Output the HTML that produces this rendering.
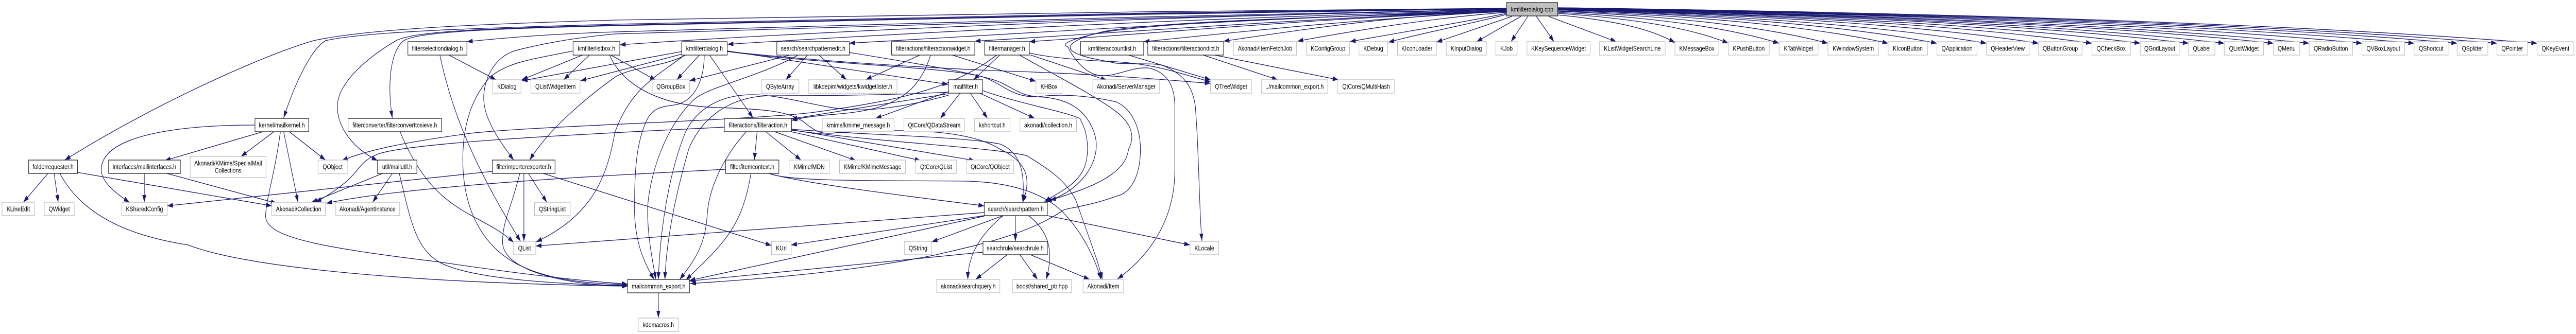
<!DOCTYPE html>
<html><head><meta charset="utf-8"><title>kmfilterdialog.cpp</title>
<style>
html,body{margin:0;padding:0;background:#fff;width:100%;height:100%;overflow:hidden}
svg{display:block;width:100%;height:100%}
.e path{fill:none;stroke:#191970;stroke-width:1.33;marker-end:url(#a)}
rect{fill:#fff;stroke-width:1.33}
.k{stroke:#222}
.g{stroke:#bfbfbf}
text{font-family:"Liberation Sans",sans-serif;font-size:13.33px;text-anchor:middle;fill:#000}
</style></head><body>
<svg xmlns="http://www.w3.org/2000/svg" viewBox="0 0 6284 649" preserveAspectRatio="none">
<defs><marker id="a" markerUnits="userSpaceOnUse" markerWidth="16" markerHeight="12" refX="14" refY="4.7" orient="auto"><path d="M0,0L14,4.7L0,9.4z" fill="#191970"/></marker></defs>
<g class="e">
<path d="M3800,15C4756,25 5592,46 6189,84"/>
<path d="M3800,15C4716,25 5518,46 6091,84"/>
<path d="M3800,15.5C4678,26 5445,46 5994,84"/>
<path d="M3800,16C4636,26 5367,47 5889,84"/>
<path d="M3800,16C4585,26 5272,47 5762,84"/>
<path d="M3800,16.5C4533,27 5175,47 5633,84"/>
<path d="M3800,17C4498,27 5110,47 5546,84"/>
<path d="M3800,17C4450,27 5020,47 5426,84"/>
<path d="M3800,17.5C4416,27 4954,48 5339,84"/>
<path d="M3800,18C4368,28 4866,48 5221,84"/>
<path d="M3800,18C4321,28 4777,48 5103,84"/>
<path d="M3800,18.5C4269,28 4680,48 4973,84"/>
<path d="M3800,19C4218,29 4585,49 4846,84"/>
<path d="M3800,19.5C4170,29 4494,49 4725,84"/>
<path d="M3800,21C4122,30 4407,49 4606,84"/>
<path d="M3800,22C4064,31 4298,50 4459,84"/>
<path d="M3800,24C4016,33 4207,51 4340,84"/>
<path d="M3800,26C3970,35 4119,52 4216,84"/>
<path d="M3800,29C3918,38 4022,53 4086,83"/>
<path d="M3778,32L3943,81"/>
<path d="M3748,32L3791,81"/>
<path d="M3727,32L3686,81"/>
<path d="M3710,32L3602,81"/>
<path d="M3688,32L3504,82"/>
<path d="M3675,28C3580,48 3480,62 3387,82"/>
<path d="M3675,26C3560,45 3400,65 3293,81"/>
<path d="M3675,24C3500,34 3300,60 3165,80"/>
<path d="M3675,22C3400,30 3200,55 2985,80"/>
<path d="M3675,22C3300,38 3050,60 2790,81"/>
<path d="M3675,22C3200,36 2900,60 2511,81"/>
<path d="M3675,21C3200,35 2800,60 2378,80"/>
<path d="M3675,20C3100,34 2600,60 2072,84"/>
<path d="M3675,20C3000,32 2300,60 1775,86"/>
<path d="M3675,19C3000,28 2100,55 1512,87"/>
<path d="M3675,18C3000,26 2000,50 1500,62C1350,66 1250,72 1139,81"/>
<path d="M3675,18C3000,28 2000,55 1500,66C1420,72 1350,80 1263,97C1200,110 1180,160 1180,190C1180,230 1215,270 1253,311"/>
<path d="M3675,16C3000,20 2000,30 1500,39C1200,46 900,55 765,79C650,105 380,200 158,311"/>
<path d="M3675,16C3000,21 2000,36 1500,47C1200,54 900,60 794,79C760,95 720,160 692,229"/>
<path d="M3675,17C3000,22 2000,38 1500,49C1200,55 1010,60 966,79C900,110 823,160 823,207C823,250 865,290 921,312"/>
<path d="M3675,17C3000,23 2000,40 1500,50C1250,55 1020,60 985,79C950,100 945,170 957,229"/>
<path d="M3675,22C3000,36 2800,50 2696,62C2630,72 2580,85 2605,91C2620,115 2650,147 2690,147C2730,147 2760,130 2801,132C2850,140 2866,170 2866,207C2866,250 2866,300 2866,331C2866,430 2800,500 2726,542"/>
<path d="M3675,23C3000,36 2800,48 2700,60C2640,70 2600,85 2613,97C2630,112 2700,118 2723,123C2780,125 2820,122 2839,128C2890,145 2910,170 2916,207C2925,300 2925,400 2932,468"/>
<path d="M117,337L57,393"/>
<path d="M132,337L142,393"/>
<path d="M189,335L663,400"/>
<path d="M146,337C205,425 330,460 459,476C600,520 1000,550 1531,556"/>
<path d="M622,243C450,243 247,260 247,330C247,355 290,380 316,393"/>
<path d="M641,256L402,312"/>
<path d="M668,256L588,304"/>
<path d="M706,256L794,311"/>
<path d="M692,256L727,393"/>
<path d="M684,256C670,340 648,390 648,420C648,460 770,480 1071,509C1250,530 1400,545 1531,552"/>
<path d="M352,337L352,393"/>
<path d="M407,337L675,395"/>
<path d="M933,337L760,393"/>
<path d="M957,337L909,393"/>
<path d="M974,337C1000,420 1010,480 1071,509C1150,545 1400,553 1531,555"/>
<path d="M1767,247C1500,258 1000,275 920,300C860,320 890,340 770,393"/>
<path d="M2433,106C2330,170 2200,195 1978,219C1800,235 1300,245 1148,259C1000,275 900,290 834,312"/>
<path d="M1770,329C1500,340 1000,360 796,395"/>
<path d="M1201,333L408,400"/>
<path d="M1278,337L1278,469"/>
<path d="M1289,337L1334,393"/>
<path d="M1268,337C1245,410 1226,430 1226,470C1226,530 1400,555 1531,556"/>
<path d="M1325,337L1882,477"/>
<path d="M976,256C1060,420 1170,410 1253,471"/>
<path d="M1095,107L1210,155"/>
<path d="M1073,107C1105,230 1170,340 1270,469"/>
<path d="M1421,107L1273,155"/>
<path d="M1438,107L1375,155"/>
<path d="M1490,107L1600,156"/>
<path d="M1487,107C1510,150 1580,205 1749,209C1860,212 1920,215 1959,236C1990,255 2000,262 2040,258C2200,250 2360,250 2440,290C2520,320 2510,360 2495,393"/>
<path d="M1398,99C1300,115 1240,120 1195,150C1140,200 1129,260 1129,310C1129,420 1190,490 1280,520C1350,545 1450,552 1531,553"/>
<path d="M1664,100L1273,157"/>
<path d="M1664,105L1416,157"/>
<path d="M1672,107C1620,130 1540,130 1500,150C1430,190 1340,250 1292,311"/>
<path d="M1670,107C1600,150 1540,170 1500,257C1480,350 1440,420 1308,470"/>
<path d="M1706,107L1651,155"/>
<path d="M1775,99L2313,164"/>
<path d="M1731,107L1837,229"/>
<path d="M1718,107C1718,140 1706,190 1653,203C1620,207 1596,207 1580,230C1548,280 1548,350 1548,414C1550,470 1570,510 1596,543"/>
<path d="M1775,100C1950,115 2200,130 2450,138C2650,143 2800,152 2953,162"/>
<path d="M1774,100C2000,125 2320,130 2400,150C2450,165 2470,190 2533,188C2600,180 2680,190 2723,198C2770,215 2782,260 2782,290C2782,340 2760,375 2724,381C2660,400 2600,405 2595,408C2500,460 2360,480 2284,495C2100,525 1900,540 1684,551"/>
<path d="M2072,102C2250,125 2400,145 2440,160C2480,175 2490,185 2530,188C2600,190 2650,210 2670,260C2690,310 2640,370 2552,392"/>
<path d="M2487,107C2560,140 2670,185 2723,217C2760,240 2770,265 2753,290C2745,340 2660,365 2562,389"/>
<path d="M1927,107L1682,157"/>
<path d="M1947,107C1850,150 1720,170 1691,195C1620,250 1586,340 1580,400C1578,450 1590,500 1600,543"/>
<path d="M1970,107L1917,155"/>
<path d="M1998,107L2065,155"/>
<path d="M2314,178L2136,230"/>
<path d="M2342,181L2294,230"/>
<path d="M2367,181L2409,230"/>
<path d="M2390,181L2524,230"/>
<path d="M2397,176C2480,200 2590,215 2634,230C2660,265 2660,320 2630,345C2610,365 2580,375 2548,392"/>
<path d="M2314,179C2150,186 1950,186 1883,186C1780,186 1710,230 1680,290C1640,400 1625,480 1622,543"/>
<path d="M2314,185C2200,210 2120,215 2074,213C2000,210 1910,184 1835,184C1760,184 1700,210 1672,257C1630,340 1610,450 1606,543"/>
<path d="M2314,182L1931,231"/>
<path d="M2244,107L2112,155"/>
<path d="M2323,107L2527,158"/>
<path d="M2270,107C2250,160 2210,195 2131,211C2060,225 2000,220 1931,234"/>
<path d="M2439,107L2375,155"/>
<path d="M2514,107L2700,156"/>
<path d="M2511,103C2560,112 2650,118 2723,120C2820,125 2880,143 2953,159"/>
<path d="M2753,107L2953,155"/>
<path d="M2935,107L3117,155"/>
<path d="M2963,107L3265,155"/>
<path d="M1847,256L1840,311"/>
<path d="M1868,256L1954,311"/>
<path d="M1890,256L2088,312"/>
<path d="M1930,256L2246,312"/>
<path d="M1930,252L2378,312"/>
<path d="M1820,256C1760,310 1728,370 1725,420C1720,480 1690,510 1658,543"/>
<path d="M1930,251C2100,262 2350,265 2440,280C2500,300 2498,350 2495,392"/>
<path d="M1930,253C2200,280 2400,285 2504,302C2560,330 2600,350 2625,390C2660,470 2680,510 2689,543"/>
<path d="M1832,337C1810,440 1770,470 1673,544"/>
<path d="M1876,337C1950,355 2200,380 2401,400"/>
<path d="M1876,337C1930,355 2200,350 2361,352C2480,355 2550,380 2590,410C2640,450 2670,500 2686,543"/>
<path d="M2477,419L2477,469"/>
<path d="M2555,419L2903,476"/>
<path d="M2447,419L2273,470"/>
<path d="M2401,419L1930,476"/>
<path d="M2401,420L1682,545"/>
<path d="M2401,413L1307,478"/>
<path d="M2447,419C2400,450 2361,490 2361,543"/>
<path d="M2509,419C2560,450 2571,490 2552,543"/>
<path d="M2398,490L1682,546"/>
<path d="M2457,495L2380,543"/>
<path d="M2488,495L2531,543"/>
<path d="M2514,495L2658,543"/>
<path d="M1606,569L1606,618"/>
</g>
<rect x="3675" y="5" width="125" height="26" style="fill:#bfbfbf" class="k"/><text x="3737.5" y="22.5">kmfilterdialog.cpp</text>
<rect class="k" x="995" y="81" width="144" height="26"/><text x="1067" y="98.5">filterselectiondialog.h</text>
<rect class="k" x="1398" y="81" width="114" height="26"/><text x="1455" y="98.5">kmfilterlistbox.h</text>
<rect class="k" x="1663" y="81" width="111" height="26"/><text x="1718.5" y="98.5">kmfilterdialog.h</text>
<rect class="k" x="1895" y="81" width="177" height="26"/><text x="1983.5" y="98.5">search/searchpatternedit.h</text>
<rect class="k" x="2175" y="81" width="203" height="26"/><text x="2276.5" y="98.5">filteractions/filteractionwidget.h</text>
<rect class="k" x="2402" y="81" width="109" height="26"/><text x="2456.5" y="98.5">filtermanager.h</text>
<rect class="k" x="2636" y="81" width="154" height="26"/><text x="2713" y="98.5">kmfilteraccountlist.h</text>
<rect class="k" x="2800" y="81" width="185" height="26"/><text x="2892.5" y="98.5">filteractions/filteractiondict.h</text>
<rect class="g" x="3009" y="81" width="154" height="26"/><text x="3086" y="98.5">Akonadi/ItemFetchJob</text>
<rect class="g" x="3187" y="81" width="105" height="26"/><text x="3239.5" y="98.5">KConfigGroup</text>
<rect class="g" x="3315" y="81" width="70" height="26"/><text x="3350" y="98.5">KDebug</text>
<rect class="g" x="3409" y="81" width="95" height="26"/><text x="3456.5" y="98.5">KIconLoader</text>
<rect class="g" x="3528" y="81" width="98" height="26"/><text x="3577" y="98.5">KInputDialog</text>
<rect class="g" x="3649" y="81" width="52" height="26"/><text x="3675" y="98.5">KJob</text>
<rect class="g" x="3725" y="81" width="154" height="26"/><text x="3802" y="98.5">KKeySequenceWidget</text>
<rect class="g" x="3902" y="81" width="160" height="26"/><text x="3982" y="98.5">KListWidgetSearchLine</text>
<rect class="g" x="4086" y="81" width="107" height="26"/><text x="4139.5" y="98.5">KMessageBox</text>
<rect class="g" x="4216" y="81" width="100" height="26"/><text x="4266" y="98.5">KPushButton</text>
<rect class="g" x="4340" y="81" width="95" height="26"/><text x="4387.5" y="98.5">KTabWidget</text>
<rect class="g" x="4459" y="81" width="124" height="26"/><text x="4521" y="98.5">KWindowSystem</text>
<rect class="g" x="4606" y="81" width="96" height="26"/><text x="4654" y="98.5">KIconButton</text>
<rect class="g" x="4725" y="81" width="98" height="26"/><text x="4774" y="98.5">QApplication</text>
<rect class="g" x="4846" y="81" width="104" height="26"/><text x="4898" y="98.5">QHeaderView</text>
<rect class="g" x="4973" y="81" width="106" height="26"/><text x="5026" y="98.5">QButtonGroup</text>
<rect class="g" x="5103" y="81" width="94" height="26"/><text x="5150" y="98.5">QCheckBox</text>
<rect class="g" x="5221" y="81" width="95" height="26"/><text x="5268.5" y="98.5">QGridLayout</text>
<rect class="g" x="5339" y="81" width="64" height="26"/><text x="5371" y="98.5">QLabel</text>
<rect class="g" x="5426" y="81" width="96" height="26"/><text x="5474" y="98.5">QListWidget</text>
<rect class="g" x="5546" y="81" width="64" height="26"/><text x="5578" y="98.5">QMenu</text>
<rect class="g" x="5633" y="81" width="106" height="26"/><text x="5686" y="98.5">QRadioButton</text>
<rect class="g" x="5762" y="81" width="104" height="26"/><text x="5814" y="98.5">QVBoxLayout</text>
<rect class="g" x="5889" y="81" width="83" height="26"/><text x="5930.5" y="98.5">QShortcut</text>
<rect class="g" x="5994" y="81" width="75" height="26"/><text x="6031.5" y="98.5">QSplitter</text>
<rect class="g" x="6091" y="81" width="75" height="26"/><text x="6128.5" y="98.5">QPointer</text>
<rect class="g" x="6189" y="81" width="90" height="26"/><text x="6234" y="98.5">QKeyEvent</text>
<rect class="g" x="1202" y="155" width="69" height="26"/><text x="1236.5" y="172.5">KDialog</text>
<rect class="g" x="1295" y="155" width="120" height="26"/><text x="1355" y="172.5">QListWidgetItem</text>
<rect class="g" x="1591" y="155" width="91" height="26"/><text x="1636.5" y="172.5">QGroupBox</text>
<rect class="g" x="1857" y="155" width="92" height="26"/><text x="1903" y="172.5">QByteArray</text>
<rect class="g" x="1973" y="155" width="215" height="26"/><text x="2080.5" y="172.5">libkdepim/widgets/kwidgetlister.h</text>
<rect class="k" x="2314" y="155" width="83" height="26"/><text x="2355.5" y="172.5">mailfilter.h</text>
<rect class="g" x="2527" y="155" width="64" height="26"/><text x="2559" y="172.5">KHBox</text>
<rect class="g" x="2666" y="155" width="162" height="26"/><text x="2747" y="172.5">Akonadi/ServerManager</text>
<rect class="g" x="2953" y="155" width="100" height="26"/><text x="3003" y="172.5">QTreeWidget</text>
<rect class="g" x="3077" y="155" width="162" height="26"/><text x="3158" y="172.5">../mailcommon_export.h</text>
<rect class="g" x="3263" y="155" width="139" height="26"/><text x="3332.5" y="172.5">QtCore/QMultiHash</text>
<rect class="k" x="622" y="230" width="131" height="26"/><text x="687.5" y="247.5">kernel/mailkernel.h</text>
<rect class="k" x="849" y="230" width="228" height="26"/><text x="963" y="247.5">filterconverter/filterconverttosieve.h</text>
<rect class="k" x="1767" y="230" width="164" height="26"/><text x="1849" y="247.5">filteractions/filteraction.h</text>
<rect class="g" x="2006" y="230" width="175" height="26"/><text x="2093.5" y="247.5">kmime/kmime_message.h</text>
<rect class="g" x="2205" y="230" width="148" height="26"/><text x="2279" y="247.5">QtCore/QDataStream</text>
<rect class="g" x="2377" y="230" width="87" height="26"/><text x="2420.5" y="247.5">kshortcut.h</text>
<rect class="g" x="2488" y="230" width="138" height="26"/><text x="2557" y="247.5">akonadi/collection.h</text>
<rect class="k" x="70" y="311" width="119" height="26"/><text x="129.5" y="328.5">folderrequester.h</text>
<rect class="k" x="265" y="311" width="175" height="26"/><text x="352.5" y="328.5">interfaces/mailinterfaces.h</text>
<rect class="g" x="464" y="304" width="185" height="41"/><text x="556.5" y="321.5">Akonadi/KMime/SpecialMail</text><text x="556.5" y="335.5">Collections</text>
<rect class="g" x="776" y="311" width="71" height="26"/><text x="811.5" y="328.5">QObject</text>
<rect class="k" x="921" y="311" width="96" height="26"/><text x="969" y="328.5">util/mailutil.h</text>
<rect class="k" x="1201" y="311" width="153" height="26"/><text x="1277.5" y="328.5">filterimporterexporter.h</text>
<rect class="k" x="1770" y="311" width="130" height="26"/><text x="1835" y="328.5">filter/itemcontext.h</text>
<rect class="g" x="1925" y="311" width="98" height="26"/><text x="1974" y="328.5">KMime/MDN</text>
<rect class="g" x="2048" y="311" width="161" height="26"/><text x="2128.5" y="328.5">KMime/KMimeMessage</text>
<rect class="g" x="2234" y="311" width="99" height="26"/><text x="2283.5" y="328.5">QtCore/QList</text>
<rect class="g" x="2358" y="311" width="115" height="26"/><text x="2415.5" y="328.5">QtCore/QObject</text>
<rect class="g" x="5" y="393" width="79" height="26"/><text x="44.5" y="410.5">KLineEdit</text>
<rect class="g" x="108" y="393" width="73" height="26"/><text x="144.5" y="410.5">QWidget</text>
<rect class="g" x="297" y="393" width="111" height="26"/><text x="352.5" y="410.5">KSharedConfig</text>
<rect class="g" x="663" y="393" width="131" height="26"/><text x="728.5" y="410.5">Akonadi/Collection</text>
<rect class="g" x="818" y="393" width="157" height="26"/><text x="896.5" y="410.5">Akonadi/AgentInstance</text>
<rect class="g" x="1304" y="393" width="87" height="26"/><text x="1347.5" y="410.5">QStringList</text>
<rect class="k" x="2401" y="393" width="154" height="26"/><text x="2478" y="410.5">search/searchpattern.h</text>
<rect class="g" x="1252" y="469" width="55" height="26"/><text x="1279.5" y="486.5">QList</text>
<rect class="g" x="1882" y="469" width="48" height="26"/><text x="1906" y="486.5">KUrl</text>
<rect class="g" x="2206" y="469" width="67" height="26"/><text x="2239.5" y="486.5">QString</text>
<rect class="k" x="2398" y="469" width="157" height="26"/><text x="2476.5" y="486.5">searchrule/searchrule.h</text>
<rect class="g" x="2903" y="469" width="70" height="26"/><text x="2938" y="486.5">KLocale</text>
<rect class="k" x="1531" y="543" width="151" height="26"/><text x="1606.5" y="560.5">mailcommon_export.h</text>
<rect class="g" x="2285" y="543" width="154" height="26"/><text x="2362" y="560.5">akonadi/searchquery.h</text>
<rect class="g" x="2470" y="543" width="144" height="26"/><text x="2542" y="560.5">boost/shared_ptr.hpp</text>
<rect class="g" x="2642" y="543" width="99" height="26"/><text x="2691.5" y="560.5">Akonadi/Item</text>
<rect class="g" x="1557" y="618" width="98" height="26"/><text x="1606" y="635.5">kdemacros.h</text>
</svg>
</body></html>
